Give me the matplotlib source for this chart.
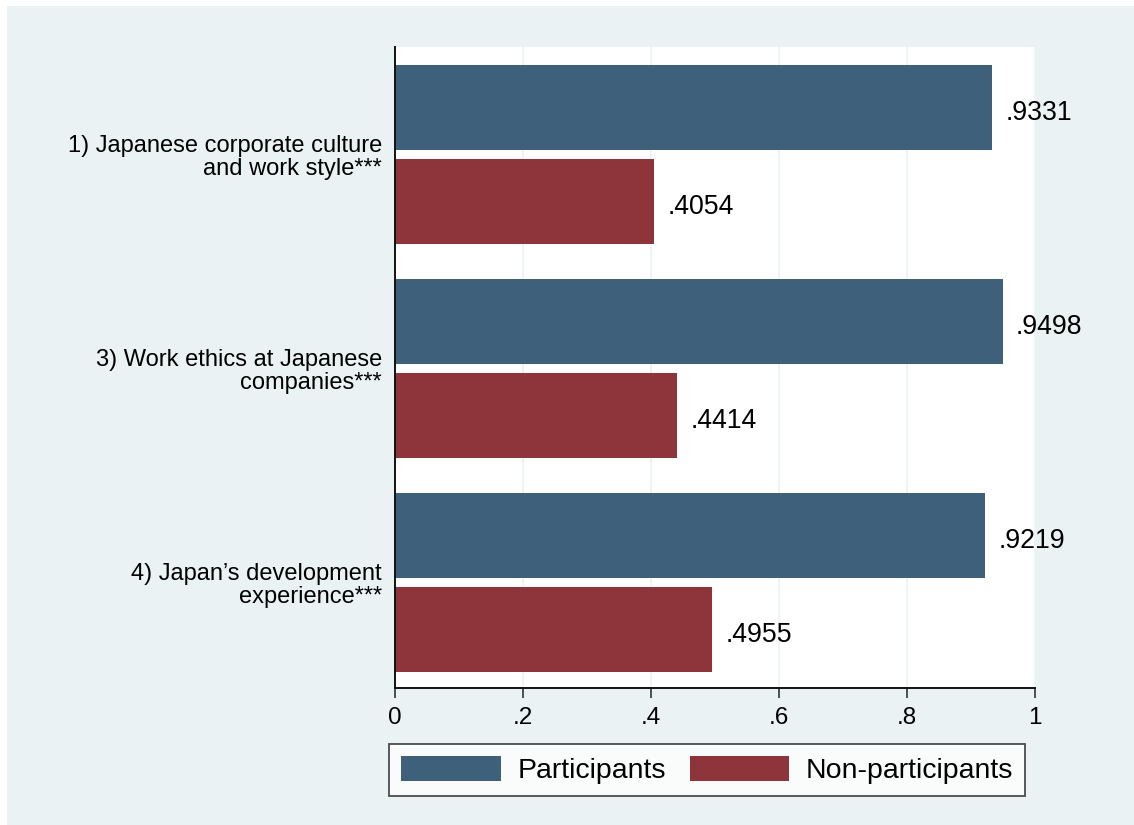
import numpy as np
import matplotlib.pyplot as plt
from matplotlib.patches import Rectangle, Patch

plt.rcParams['font.family'] = ['Liberation Sans', 'DejaVu Sans']

items = ["1) Japanese corporate culture\nand work style***",
         "3) Work ethics at Japanese\ncompanies***",
         "4) Japan\u2019s development\nexperience***"]
participants = [0.9331, 0.9498, 0.9219]
non_participants = [0.4054, 0.4414, 0.4955]

c_part = '#3e607a'
c_non = '#8e353c'
bg = '#eaf2f3'

W, H = 1134, 825
fig = plt.figure(figsize=(W / 100, H / 100), dpi=100, facecolor='white')
# graph region (thin white strip on top and left)
fig.patches.append(Rectangle((7 / W, 0), 1 - 7 / W, 1 - 6 / H,
                             transform=fig.transFigure, facecolor=bg,
                             edgecolor='none', zorder=-1))

ax = fig.add_axes([395 / W, 1 - 688 / H, 640 / W, 641 / H])
ax.set_facecolor('white')

y = np.arange(len(items))
h = 85 / 214
off = 94 / 214 / 2
ax.barh(y - off, participants, height=h, color=c_part, zorder=2)
ax.barh(y + off, non_participants, height=h, color=c_non, zorder=2)

# value labels to the right of each bar
for yy, v in zip(np.r_[y - off, y + off], participants + non_participants):
    ax.annotate(('%.4f' % v)[1:], (v, yy), xytext=(9.5, -2), textcoords='offset points',
                va='center_baseline', ha='left', fontsize=19.2)

ax.set_xlim(0, 1)
ax.set_ylim(2.495, -0.502)
ax.set_xticks([0, 0.2, 0.4, 0.6, 0.8, 1])
ax.set_xticklabels(['0', '.2', '.4', '.6', '.8', '1'], fontsize=17.5)
ax.set_yticks(y)
ax.set_yticklabels(items, fontsize=17, linespacing=1.09)
ax.tick_params(axis='y', length=0, pad=9.5)
ax.tick_params(axis='x', length=7, width=1.2, pad=7, color='#333333')
ax.grid(axis='x', color=bg, linewidth=1.2, zorder=0)
ax.set_axisbelow(True)
for s in ['top', 'right']:
    ax.spines[s].set_visible(False)
for s in ['left', 'bottom']:
    ax.spines[s].set_linewidth(1.4)
    ax.spines[s].set_color('#111111')

handles = [Patch(facecolor=c_part, edgecolor='none', label='Participants'),
           Patch(facecolor=c_non, edgecolor='none', label='Non-participants')]
leg = fig.legend(handles=handles, loc='lower left', ncol=2, mode='expand',
                 bbox_to_anchor=(389 / W, 1 - 796 / H, 636 / W, 53 / H),
                 fontsize=20.5, frameon=True, fancybox=False, borderaxespad=0,
                 handlelength=3.5, handleheight=1.0, handletextpad=0.58,
                 borderpad=0.42, columnspacing=1.0)
leg.get_frame().set_edgecolor('#222222')
leg.get_frame().set_linewidth(1.3)

fig.savefig('out.png', dpi=100, facecolor=fig.get_facecolor())
